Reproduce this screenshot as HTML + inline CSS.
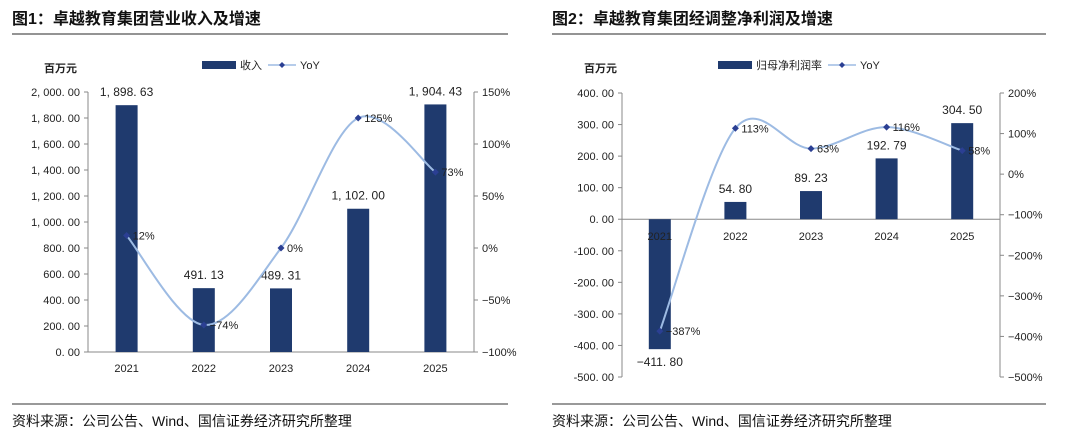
<!DOCTYPE html>
<html><head><meta charset="utf-8">
<style>
body{margin:0;background:#fff;}
svg{display:block;font-family:"Liberation Sans","Noto Sans CJK SC",sans-serif;}
</style></head>
<body>
<svg id="s" width="1080" height="437" viewBox="0 0 1080 437">
<g>
<text x="12" y="24" font-size="16" font-weight="bold" fill="#111">图1：卓越教育集团营业收入及增速</text>
<line x1="12" y1="34" x2="508" y2="34" stroke="#555" stroke-width="1.2"/>
<text x="44" y="72" font-size="11" font-weight="bold" fill="#222">百万元</text>
</g>
<g>
<text x="552" y="24" font-size="16" font-weight="bold" fill="#111">图2：卓越教育集团经调整净利润及增速</text>
<line x1="552" y1="34" x2="1046" y2="34" stroke="#555" stroke-width="1.2"/>
<text x="584" y="72" font-size="11" font-weight="bold" fill="#222">百万元</text>
</g>
<line x1="12" y1="404" x2="508" y2="404" stroke="#333" stroke-width="1"/>
<text x="12" y="426" font-size="14" fill="#111">资料来源：公司公告、Wind、国信证券经济研究所整理</text>
<line x1="552" y1="404" x2="1046" y2="404" stroke="#333" stroke-width="1"/>
<text x="552" y="426" font-size="14" fill="#111">资料来源：公司公告、Wind、国信证券经济研究所整理</text>
</svg>
<script>
const years = ["2021","2022","2023","2024","2025"];
const revenue = [1898.63, 491.13, 489.31, 1102.00, 1904.43];
const revenueLabels = ["1,898.63","491.13","489.31","1,102.00","1,904.43"];
const revenueYoY = [12, -74, 0, 125, 73];
const revLeftTicks = [0,200,400,600,800,1000,1200,1400,1600,1800,2000];
const revRightTicks = [-100,-50,0,50,100,150];
const profit = [-411.80, 54.80, 89.23, 192.79, 304.50];
const profitLabels = ["-411.80","54.80","89.23","192.79","304.50"];
const profitYoY = [-387, 113, 63, 116, 58];
const profLeftTicks = [-500,-400,-300,-200,-100,0,100,200,300,400];
const profRightTicks = [-500,-400,-300,-200,-100,0,100,200];

const NS="http://www.w3.org/2000/svg";
const svg=document.getElementById('s');
function mk(tag,attrs,parent,txt){const e=document.createElementNS(NS,tag);for(const k in attrs)e.setAttribute(k,attrs[k]);if(txt!==undefined)e.textContent=txt;(parent||svg).appendChild(e);return e;}
function fmt(v){const s=Math.abs(v).toFixed(2);const p=s.split('.');p[0]=p[0].replace(/\B(?=(\d{3})+(?!\d))/g,',');return (v<0?'-':'')+p.join('. ').replace(/,/g,', ');}
function smooth(pts){let d=`M${pts[0][0]},${pts[0][1]}`;for(let i=0;i<pts.length-1;i++){const p0=pts[i-1]||pts[i],p1=pts[i],p2=pts[i+1],p3=pts[i+2]||p2;const t=6;d+=` C${p1[0]+(p2[0]-p0[0])/t},${p1[1]+(p2[1]-p0[1])/t} ${p2[0]-(p3[0]-p1[0])/t},${p2[1]-(p3[1]-p1[1])/t} ${p2[0]},${p2[1]}`;}return d;}

function chart(o){
  const g=mk('g',{});
  
  
  const yL=v=>o.top+(o.lmax-v)/(o.lmax-o.lmin)*(o.bot-o.top);
  const yR=v=>o.top+(o.rmax-v)/(o.rmax-o.rmin)*(o.bot-o.top);
  const xC=i=>o.x0+(i+0.5)*(o.x1-o.x0)/years.length;
  // axes
  mk('line',{x1:o.x0,y1:o.top,x2:o.x0,y2:o.bot,stroke:'#888','stroke-width':1},g);
  mk('line',{x1:o.x1,y1:o.top,x2:o.x1,y2:o.bot,stroke:'#888','stroke-width':1},g);
  mk('line',{x1:o.x0,y1:yL(0),x2:o.x1,y2:yL(0),stroke:'#888','stroke-width':1},g);
  o.lt.forEach(v=>{const y=yL(v);mk('line',{x1:o.x0-4,y1:y,x2:o.x0,y2:y,stroke:'#888'},g);
    const t=mk('text',{x:o.x0-8,y:y+4,'font-size':11,'text-anchor':'end',fill:'#222'},g,fmt(v));
    });
  o.rt.forEach(v=>{const y=yR(v);mk('line',{x1:o.x1,y1:y,x2:o.x1+4,y2:y,stroke:'#888'},g);
    const t=mk('text',{x:o.x1+8,y:y+4,'font-size':11,fill:'#222'},g,(v<0?'−':'')+Math.abs(v)+'%');
    });
  // bars
  o.bars.forEach((v,i)=>{const y0=yL(0),y=yL(v);
    const r=mk('rect',{x:xC(i)-11,y:Math.min(y,y0),width:22,height:Math.abs(y-y0),fill:'#1f3a6e'},g);
    
    const ly=v>=0?y-9:y+17;
    const t=mk('text',{x:xC(i),y:ly,'font-size':12,'text-anchor':'middle',fill:'#222'},g,o.blabels[i].replace('.', '. ').replace(',',', ').replace('-','−'));
    
    const xl=mk('text',{x:xC(i),y:o.xly,'font-size':11,'text-anchor':'middle',fill:'#222'},g,years[i]);
    
  });
  // line
  const pts=o.yoy.map((v,i)=>[xC(i),yR(v)]);
  const p=mk('path',{d:smooth(pts),fill:'none',stroke:'#9dbbe3','stroke-width':2},g);
  
  pts.forEach((q,i)=>{const m=mk('path',{d:`M${q[0]},${q[1]-3.5}L${q[0]+3.5},${q[1]}L${q[0]},${q[1]+3.5}L${q[0]-3.5},${q[1]}Z`,fill:'#2b3f93'},g);
    
    const t=mk('text',{x:q[0]+6,y:q[1]+4,'font-size':11,fill:'#222'},g,(o.yoy[i]<0?'−':'')+Math.abs(o.yoy[i])+'%');
    });
  // legend
  const lg=mk('g',{},g);
  
  mk('rect',{x:o.lgx,y:61,width:34,height:8,fill:'#1f3a6e'},lg);
  mk('text',{x:o.lgx+38,y:69,'font-size':11,fill:'#222'},lg,o.lgname);
  const lx=o.lgx+42+o.lgw;
  mk('line',{x1:lx,y1:65,x2:lx+28,y2:65,stroke:'#9dbbe3','stroke-width':1.5},lg);
  mk('path',{d:`M${lx+14},62L${lx+17},65L${lx+14},68L${lx+11},65Z`,fill:'#2b3f93'},lg);
  mk('text',{x:lx+32,y:69,'font-size':11,fill:'#222'},lg,'YoY');
}
chart({name:'revenue-chart',x0:88,x1:474,top:92,bot:352,lmin:0,lmax:2000,rmin:-100,rmax:150,lt:revLeftTicks,rt:revRightTicks,bars:revenue,blabels:revenueLabels,yoy:revenueYoY,xly:372,lgx:202,lgname:'收入',lgw:24});
chart({name:'profit-chart',x0:622,x1:1000,top:93,bot:377,lmin:-500,lmax:400,rmin:-500,rmax:200,lt:profLeftTicks,rt:profRightTicks,bars:profit,blabels:profitLabels,yoy:profitYoY,xly:240,lgx:718,lgname:'归母净利润率',lgw:68});
</script>
</body></html>
